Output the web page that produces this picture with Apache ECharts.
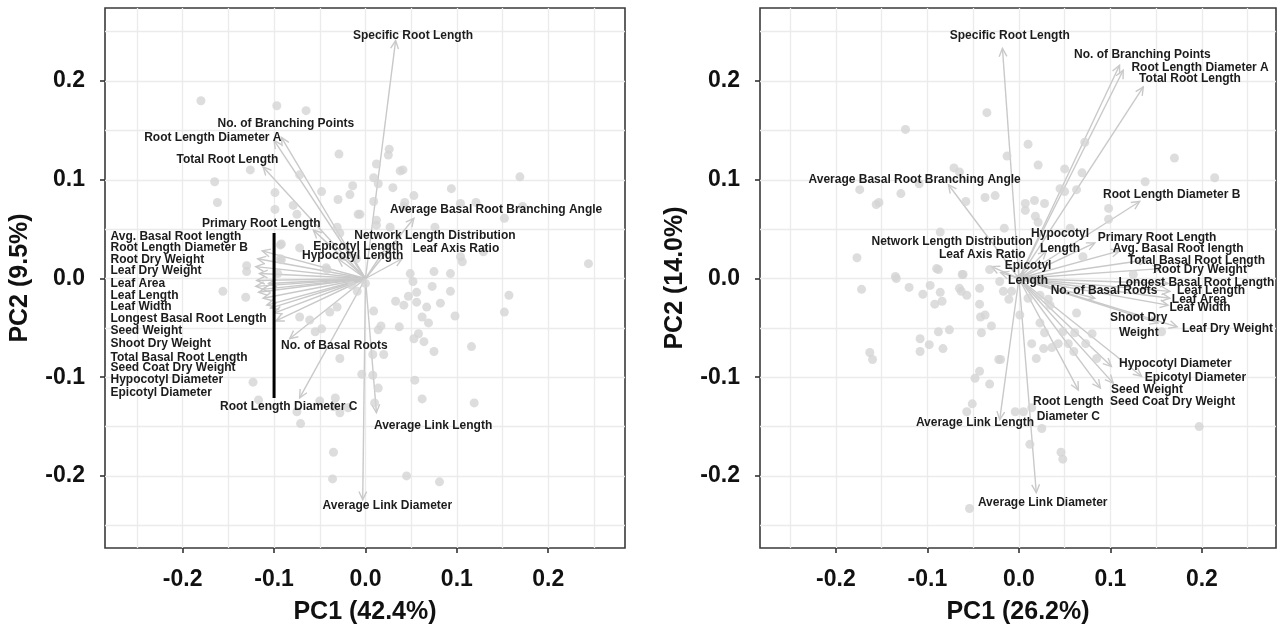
<!DOCTYPE html>
<html>
<head>
<meta charset="utf-8">
<script src="https://cdn.jsdelivr.net/npm/echarts@6/dist/echarts.min.js"></script>
<style>
  html, body { margin: 0; padding: 0; background: #fff; }
  #chart { width: 1278px; height: 637px; }
</style>
</head>
<body>
<div id="chart"></div>
<script>
// ---- panel A (PC1 42.4%, PC2 9.5%) ----
const pointsA = [
  [-0.18,0.18],[-0.097,0.175],[-0.065,0.17],[-0.029,0.126],[-0.126,0.11],[-0.072,0.105],[-0.165,0.098],
  [-0.099,0.087],[-0.048,0.088],[-0.017,0.085],[-0.014,0.094],[-0.03,0.08],[-0.162,0.077],[-0.079,0.074],
  [-0.099,0.07],[-0.075,0.065],[-0.008,0.065],[-0.093,0.034],[-0.13,0.013],[-0.13,0.007],[-0.043,0.011],
  [-0.092,0.019],[-0.031,0.052],[-0.028,0.046],
  [0.026,0.131],[0.025,0.125],[0.012,0.116],[0.038,0.109],[0.041,0.11],[0.009,0.102],[0.014,0.096],
  [0.03,0.092],[0.169,0.103],[0.094,0.091],[0.053,0.084],[0.009,0.078],[0.043,0.077],[0.042,0.073],
  [0.121,0.077],[0.104,0.076],[0.172,0.073],[-0.006,0.065],[0.152,0.061],[0.012,0.059],[0.027,0.052],
  [0.076,0.052],[0.104,0.022],[0.106,0.017],[0.129,0.027],[0.244,0.015],[0.075,0.007],[0.049,0.005],
  [0.012,0.054],
  [0.052,-0.003],[0.093,0.005],[0.073,-0.008],[0.093,-0.013],[0.157,-0.017],[0.152,-0.034],[0.033,-0.023],
  [0.042,-0.027],[0.047,-0.018],[0.056,-0.014],[0.056,-0.024],[0.082,-0.025],[0.067,-0.029],[0.009,-0.033],
  [0.062,-0.039],[0.098,-0.038],[0.069,-0.045],[0.037,-0.049],[0.014,-0.052],[0.017,-0.048],[0.058,-0.056],
  [0.053,-0.061],[0.064,-0.064],[0.075,-0.074],[0.116,-0.069],[0.008,-0.077],[0.02,-0.077],[-0.004,-0.097],
  [0.008,-0.098],[0.054,-0.103],[0.014,-0.111],[0.062,-0.122],[0.119,-0.126],[0.01,-0.126],[0.045,-0.2],
  [0.081,-0.206],
  [-0.156,-0.013],[-0.131,-0.019],[-0.072,-0.039],[-0.061,-0.042],[-0.055,-0.054],[-0.048,-0.051],
  [-0.039,-0.034],[-0.031,-0.029],[-0.028,-0.081],[-0.123,-0.105],[-0.117,-0.123],[-0.075,-0.135],
  [-0.071,-0.147],[-0.05,-0.124],[-0.033,-0.121],[-0.035,-0.13],[-0.028,-0.136],[-0.019,-0.131],
  [-0.035,-0.176],[-0.036,-0.203],
  [-0.092,0.035],[-0.072,0.031],[-0.042,0.009],[-0.093,0.02],[-0.096,0.005],[-0.015,-0.007],[-0.009,-0.013],
  [-0.01,0.02],[0.0,-0.005]
];

// variables with their own label next to the arrow
const varsA = [
  'Specific Root Length', 'No. of Branching Points', 'Root Length Diameter A', 'Total Root Length',
  'Primary Root Length', 'Average Basal Root Branching Angle', 'Network Length Distribution',
  'Leaf Axis Ratio', 'Epicotyl Length', 'Hypocotyl Length', 'No. of Basal Roots',
  'Root Length Diameter C', 'Average Link Length', 'Average Link Diameter'
];
const tipsA = [
  [0.033,0.241],[-0.092,0.143],[-0.1,0.14],[-0.112,0.113],[-0.057,0.049],[0.053,0.061],[0.025,0.035],
  [0.04,0.02],[-0.02,0.028],[-0.03,0.02],[-0.083,-0.061],[-0.072,-0.121],[0.012,-0.136],[-0.003,-0.224]
];
const labelPosA = [
  [0.052,0.246],[-0.087,0.157],[-0.167,0.143],[-0.151,0.12],[-0.114,0.056],[0.143,0.07],[0.076,0.043],
  [0.099,0.03],[-0.008,0.032],[-0.014,0.023],[-0.034,-0.068],[-0.084,-0.13],[0.074,-0.149],[0.024,-0.23]
];

// variables listed in the stacked block on the left
const stackVarsA = [
  'Avg. Basal Root length', 'Root Length Diameter B', 'Root Dry Weight', 'Leaf Dry Weight', 'Leaf Area',
  'Leaf Length', 'Leaf Width', 'Longest Basal Root Length', 'Seed Weight', 'Shoot Dry Weight',
  'Total Basal Root Length', 'Seed Coat Dry Weight', 'Hypocotyl Diameter', 'Epicotyl Diameter'
];
const stackTipsA = [
  [-0.113,0.028],[-0.118,0.02],[-0.12,0.012],[-0.116,0.005],[-0.119,-0.002],[-0.12,-0.008],[-0.117,-0.014],
  [-0.112,-0.02],[-0.108,-0.027],[-0.113,-0.011],[-0.106,-0.005],[-0.1,-0.035],[-0.104,-0.03],[-0.098,-0.043]
];
const stackYA = [0.042,0.031,0.019,0.008,-0.005,-0.017,-0.029,-0.041,-0.053,-0.066,-0.08,-0.09,-0.102,-0.116];
const stackXA = -0.279;
const bracketA = [[-0.1,0.046],[-0.1,-0.121]];

// ---- panel B (PC1 26.2%, PC2 14.0%) ----
const pointsB = [
  [-0.035,0.168],[-0.124,0.151],[-0.071,0.112],[-0.065,0.108],[-0.174,0.09],[-0.129,0.086],[-0.109,0.096],
  [-0.156,0.075],[-0.153,0.077],[-0.058,0.078],[-0.037,0.082],[-0.026,0.084],[-0.086,0.047],[-0.177,0.021],
  [-0.09,0.01],[-0.032,0.009],[-0.135,0.002],[-0.061,0.004],
  [0.01,0.136],[-0.013,0.124],[0.021,0.115],[0.17,0.122],[0.214,0.102],[0.072,0.138],[0.05,0.111],
  [0.069,0.107],[0.045,0.091],[0.05,0.088],[0.063,0.09],[0.138,0.098],[0.007,0.076],[0.007,0.069],
  [0.017,0.079],[0.028,0.076],[0.018,0.063],[0.021,0.057],[0.098,0.071],[0.098,0.06],[-0.016,0.051],
  [0.056,0.051],[0.07,0.022],[0.125,0.004],
  [-0.172,-0.011],[-0.134,0],[-0.12,-0.009],[-0.105,-0.016],[-0.097,-0.007],[-0.086,-0.014],[-0.092,-0.026],
  [-0.084,-0.023],[-0.065,-0.01],[-0.063,-0.013],[-0.057,-0.017],[-0.043,-0.01],[-0.043,-0.026],
  [-0.042,-0.039],[-0.037,-0.037],[-0.03,-0.048],[-0.041,-0.055],[-0.062,0.004],[-0.088,0.009],
  [-0.088,-0.054],[-0.076,-0.052],[-0.108,-0.061],[-0.108,-0.074],[-0.098,-0.067],[-0.083,-0.071],
  [-0.163,-0.075],[-0.16,-0.082],[-0.048,-0.101],[-0.043,-0.094],[-0.032,-0.107],[-0.022,-0.082],
  [-0.057,-0.135],[-0.051,-0.127],[-0.054,-0.233],
  [-0.021,-0.003],[-0.017,-0.013],[-0.011,-0.021],[-0.008,-0.013],[0.01,-0.02],[0.023,-0.017],[0.032,-0.021],
  [0.034,-0.027],[0.001,-0.037],[0.063,-0.035],[0.023,-0.045],[0.028,-0.055],[0.048,-0.054],[0.061,-0.055],
  [0.08,-0.056],[0.014,-0.066],[0.027,-0.071],[0.036,-0.07],[0.043,-0.066],[0.054,-0.066],[0.06,-0.074],
  [0.073,-0.066],[0.085,-0.081],[0.019,-0.081],[-0.02,-0.082],[-0.004,-0.135],[0.005,-0.135],[0.014,-0.131],
  [0.025,-0.152],[0.012,-0.168],[0.046,-0.176],[0.048,-0.183],[0.197,-0.15],[0.156,-0.054]
];
const varsB = [
  'Specific Root Length', 'No. of Branching Points', 'Root Length Diameter A', 'Total Root Length',
  'Root Length Diameter B', 'Average Basal Root Branching Angle', 'Network Length Distribution',
  'Leaf Axis Ratio', 'Hypocotyl\nLength', 'Epicotyl\nLength', 'Primary Root Length', 'Avg. Basal Root length',
  'Total Basal Root Length', 'Root Dry Weight', 'Longest Basal Root Length', 'Leaf Length', 'Leaf Area',
  'Leaf Width', 'No. of Basal Roots', 'Shoot Dry\nWeight', 'Leaf Dry Weight', 'Hypocotyl Diameter',
  'Epicotyl Diameter', 'Seed Weight', 'Seed Coat Dry Weight', 'Root Length\nDiameter C',
  'Average Link Length', 'Average Link Diameter'
];
const tipsB = [
  [-0.018,0.233],[0.11,0.216],[0.114,0.211],[0.136,0.194],[0.132,0.078],[-0.077,0.095],[-0.03,0.012],
  [-0.02,0.006],[0.03,0.028],[0.005,0.006],[0.083,0.036],[0.11,0.028],[0.14,0.019],[0.155,0.01],
  [0.163,-0.005],[0.165,-0.013],[0.165,-0.02],[0.163,-0.027],[0.083,-0.02],[0.152,-0.045],[0.173,-0.049],
  [0.101,-0.089],[0.134,-0.099],[0.103,-0.106],[0.089,-0.111],[0.065,-0.113],[-0.021,-0.143],[0.019,-0.217]
];
const labelPosB = [
  [-0.01,0.246],[0.135,0.227],[0.198,0.214],[0.187,0.202],[0.167,0.085],[-0.114,0.1],[-0.073,0.037],
  [-0.04,0.024],[0.045,0.038],[0.01,0.005],[0.151,0.041],[0.174,0.03],[0.194,0.018],[0.198,0.009],
  [0.194,-0.004],[0.21,-0.012],[0.197,-0.021],[0.198,-0.03],[0.093,-0.012],[0.131,-0.047],[0.228,-0.051],
  [0.171,-0.086],[0.193,-0.1],[0.14,-0.113],[0.168,-0.125],[0.054,-0.132],[-0.048,-0.146],[0.026,-0.227]
];

const xTicks = [-0.2, -0.1, 0, 0.1, 0.2];
const yTicks = [-0.2, -0.1, 0, 0.1, 0.2];
const gridXVals = [-0.25, -0.2, -0.15, -0.1, -0.05, 0, 0.05, 0.1, 0.15, 0.2, 0.25];
const gridYVals = [-0.25, -0.2, -0.15, -0.1, -0.05, 0, 0.05, 0.1, 0.15, 0.2, 0.25];

const POINT = '#d4d4d4';
const ARROW = '#c9c9c9';
const TEXT = '#1c1c1c';
const FONT = '"Liberation Sans", Arial, Helvetica, sans-serif';
const LABEL_FONT = 'bold 12px ' + FONT;

const chart = echarts.init(document.getElementById('chart'));

function mainX(grid, name, min, max) {
  return {
    type: 'value', gridIndex: grid, min: min, max: max, position: 'bottom',
    name: name, nameLocation: 'middle', nameGap: 52,
    nameTextStyle: { fontSize: 25, fontWeight: 'bold', color: '#111', fontFamily: FONT },
    axisLine: { show: false, onZero: false },
    axisTick: { show: true, inside: false, length: 5, customValues: xTicks, lineStyle: { color: '#333', width: 1.6 } },
    axisLabel: { customValues: xTicks, formatter: v => v.toFixed(1), fontSize: 23, fontWeight: 'bold',
                 color: '#111', fontFamily: FONT, margin: 20 },
    splitLine: { show: false }
  };
}
function mainY(grid, name) {
  return {
    type: 'value', gridIndex: grid, min: -0.273, max: 0.274, position: 'left',
    name: name, nameLocation: 'middle', nameGap: 72,
    nameTextStyle: { fontSize: 25, fontWeight: 'bold', color: '#111', fontFamily: FONT },
    axisLine: { show: false, onZero: false },
    axisTick: { show: true, inside: false, length: 5, customValues: yTicks, lineStyle: { color: '#333', width: 1.6 } },
    axisLabel: { customValues: yTicks, formatter: v => v.toFixed(1), fontSize: 23, fontWeight: 'bold',
                 color: '#111', fontFamily: FONT, margin: 20 },
    splitLine: { show: false }
  };
}
// hidden axes that only carry the 0.05 grid lines
function gridAxis(grid, min, max, vals, pos) {
  return {
    type: 'value', gridIndex: grid, min: min, max: max, position: pos,
    axisLine: { show: false, onZero: false },
    axisTick: { show: false, customValues: vals },
    axisLabel: { show: false, customValues: vals },
    splitLine: { show: true, lineStyle: { color: '#ebebeb', width: 1.3 } }
  };
}

function renderArrow(params, api) {
  const o = api.coord([0, 0]);
  const t = api.coord([api.value(0), api.value(1)]);
  const a = Math.atan2(t[1] - o[1], t[0] - o[0]);
  const h = 9, w = Math.PI / 7;
  const p1 = [t[0] - h * Math.cos(a - w), t[1] - h * Math.sin(a - w)];
  const p2 = [t[0] - h * Math.cos(a + w), t[1] - h * Math.sin(a + w)];
  return {
    type: 'group',
    children: [
      { type: 'line', shape: { x1: o[0], y1: o[1], x2: t[0], y2: t[1] }, style: { stroke: ARROW, lineWidth: 1.4 } },
      { type: 'polyline', shape: { points: [p1, t, p2] }, style: { stroke: ARROW, lineWidth: 1.4, fill: null } }
    ]
  };
}
function textRenderer(texts, align) {
  return function (params, api) {
    const p = api.coord([api.value(0), api.value(1)]);
    return {
      type: 'text', x: p[0], y: p[1],
      style: { text: texts[params.dataIndex], font: LABEL_FONT, fill: TEXT, align: align,
               verticalAlign: 'middle', lineHeight: 15 }
    };
  };
}

const option = {
  backgroundColor: '#fff',
  animation: false,
  grid: [
    { left: 105, top: 8, width: 520, height: 540, show: true, borderColor: '#3a3a3a', borderWidth: 1.6, backgroundColor: '#fff' },
    { left: 760, top: 8, width: 516, height: 540, show: true, borderColor: '#3a3a3a', borderWidth: 1.6, backgroundColor: '#fff' }
  ],
  xAxis: [
    mainX(0, 'PC1 (42.4%)', -0.285, 0.284),
    gridAxis(0, -0.285, 0.284, gridXVals, 'top'),
    mainX(1, 'PC1 (26.2%)', -0.283, 0.281),
    gridAxis(1, -0.283, 0.281, gridXVals, 'top')
  ],
  yAxis: [
    mainY(0, 'PC2 (9.5%)'),
    gridAxis(0, -0.273, 0.274, gridYVals, 'right'),
    mainY(1, 'PC2 (14.0%)'),
    gridAxis(1, -0.273, 0.274, gridYVals, 'right')
  ],
  series: [
    { type: 'scatter', xAxisIndex: 1, yAxisIndex: 1, data: [] },
    { type: 'scatter', xAxisIndex: 3, yAxisIndex: 3, data: [] },
    // panel A
    { type: 'scatter', xAxisIndex: 0, yAxisIndex: 0, data: pointsA, symbolSize: 9,
      itemStyle: { color: POINT }, silent: true },
    { type: 'custom', xAxisIndex: 0, yAxisIndex: 0, data: tipsA.concat(stackTipsA), renderItem: renderArrow, silent: true },
    { type: 'line', xAxisIndex: 0, yAxisIndex: 0, data: bracketA, symbol: 'none',
      lineStyle: { color: '#000', width: 3 }, silent: true },
    { type: 'custom', xAxisIndex: 0, yAxisIndex: 0, data: labelPosA, renderItem: textRenderer(varsA, 'center'), silent: true, z: 5 },
    { type: 'custom', xAxisIndex: 0, yAxisIndex: 0, data: stackYA.map(y => [stackXA, y]),
      renderItem: textRenderer(stackVarsA, 'left'), silent: true, z: 5 },
    // panel B
    { type: 'scatter', xAxisIndex: 2, yAxisIndex: 2, data: pointsB, symbolSize: 9,
      itemStyle: { color: POINT }, silent: true },
    { type: 'custom', xAxisIndex: 2, yAxisIndex: 2, data: tipsB, renderItem: renderArrow, silent: true },
    { type: 'custom', xAxisIndex: 2, yAxisIndex: 2, data: labelPosB, renderItem: textRenderer(varsB, 'center'), silent: true, z: 5 }
  ]
};
chart.setOption(option);
</script>
</body>
</html>
